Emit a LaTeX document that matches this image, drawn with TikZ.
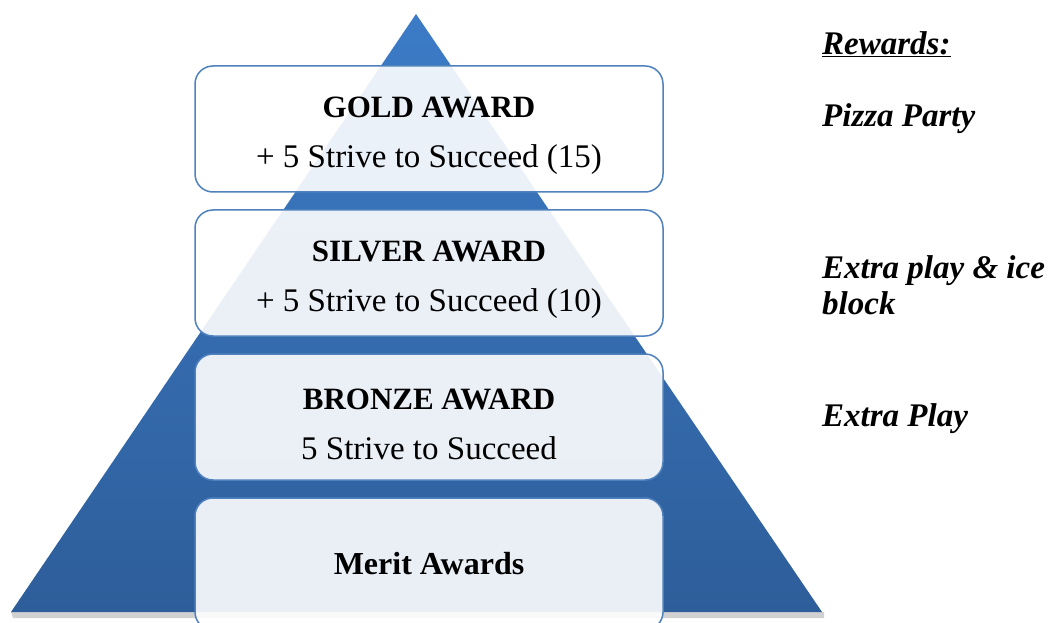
\documentclass[tikz,border=0pt]{standalone}
\usepackage{fontspec}
\setmainfont{Liberation Serif}
\usepackage{tikz}
\usetikzlibrary{shadows}

\definecolor{pyrtop}{HTML}{3C7BC7}
\definecolor{pyrbot}{HTML}{2E5E9A}
\definecolor{boxline}{HTML}{4F81BD}

\newcommand{\awardtitle}[1]{\rule{0pt}{35pt}{\bfseries\fontsize{31}{50}\selectfont #1}}

\begin{document}
\begin{tikzpicture}
  [x=1pt,y=1pt,
   awardbox/.style={draw=boxline,line width=1.5pt,rounded corners=18pt,
     fill=white,fill opacity=.9,text opacity=1,minimum width=468pt,
     minimum height=126pt,align=center,
     font=\fontsize{33}{50}\selectfont},
   rewardtext/.style={anchor=west,align=left,inner sep=0pt,
     font=\fontsize{33}{36}\selectfont\bfseries\itshape}]
  \useasboundingbox (0,0) rectangle (1048,622);
  \clip (0,0) rectangle (1048,622);

  % pyramid
  \coordinate (apex) at (416,608);
  \coordinate (bl) at (11,10);
  \coordinate (br) at (822,10);
  \fill[black!60,opacity=.3] (bl) ++(2,-6) -- ++(811,0) -- ++(0,6) -- (bl) -- cycle;
  \shade[top color=pyrtop,bottom color=pyrbot] (apex) -- (bl) -- (br) -- cycle;

  % levels
  \node[awardbox] (gold) at (429,493)
    {\awardtitle{GOLD AWARD}\\+ 5 Strive to Succeed (15)};
  \node[awardbox] (silver) at (429,349)
    {\awardtitle{SILVER AWARD}\\+ 5 Strive to Succeed (10)};
  \node[awardbox] (bronze) at (429,205)
    {\awardtitle{BRONZE AWARD}\\5 Strive to Succeed};
  \node[awardbox,minimum height=132pt] (merit) at (429,58)
    {{\bfseries\fontsize{32}{50}\selectfont Merit Awards}};

  % rewards column
  \node[rewardtext] (rewards) at (822,578) {\underline{Rewards:}};
  \node[rewardtext] (pizza) at (822,503) {Pizza Party};
  \node[rewardtext] (ice) at (822,337) {Extra play \& ice\\block};
  \node[rewardtext] (play) at (822,203) {Extra Play};

\end{tikzpicture}
\end{document}
